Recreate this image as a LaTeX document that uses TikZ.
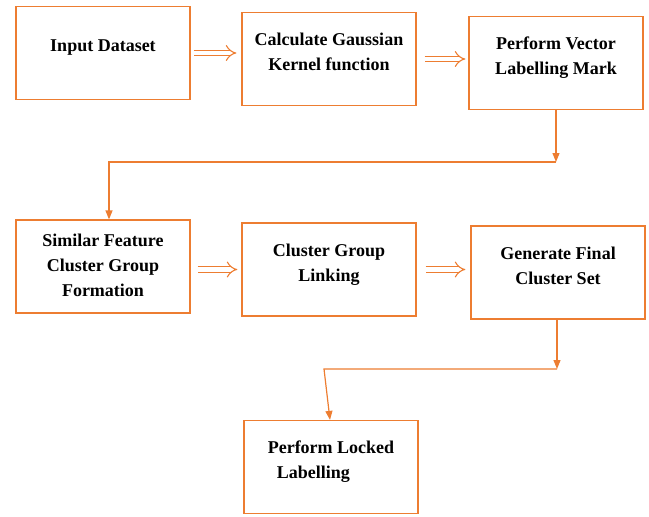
\documentclass[tikz,border=0pt]{standalone}
\usepackage{fontspec}
\setmainfont{Liberation Serif}
\usetikzlibrary{arrows.meta}
\definecolor{boxorange}{RGB}{237,125,49}

\begin{document}
\begin{tikzpicture}[x=1pt, y=-1pt, >={Triangle[width=7pt,length=9pt]},
    every node/.style={font=\fontsize{18}{25}\selectfont\bfseries, align=center},
    box/.style={draw=boxorange, line width=1.2pt, minimum width=174pt,
                minimum height=93pt, inner sep=0pt, text depth=14pt},
    link/.style={draw=boxorange, line width=1.2pt},
    hollow/.style={draw=boxorange, double=white, double distance=4.5pt,
                   line width=1.1pt, -{Implies[scale=1.5]}}]
  \useasboundingbox (0,0) rectangle (649,517);
  % first row
  \node[box] (data)   at (103,53)  {Input Dataset};
  \node[box] (gauss)  at (329,59)  {Calculate Gaussian\\Kernel function};
  \node[box] (vector) at (556,63)  {Perform Vector\\Labelling Mark};
  % second row
  \node[box, text depth=2pt] (similar) at (103,266.5) {Similar Feature\\Cluster Group\\Formation};
  \node[box] (linking) at (329,269.5) {Cluster Group\\Linking};
  \node[box] (final)   at (558,272.5) {Generate Final\\Cluster Set};
  % last one
  \node[box, align=left] (locked) at (331,467) {Perform Locked\\\hspace*{9pt}Labelling};
  \coordinate (j1) at (556,162);
  \coordinate (j2) at (109,162);
  \coordinate (j3) at (557,369);
  \coordinate (j4) at (324,369);
  \draw[hollow, shorten <=3pt, shorten >=5pt] (data.east) -- (gauss.west |- data.east);
  \draw[hollow, shorten <=8pt, shorten >=3pt] (gauss.east) -- (vector.west |- gauss.east);
  \draw[hollow, shorten <=7pt, shorten >=4pt] (similar.east |- linking.west) -- (linking.west);
  \draw[hollow, shorten <=9pt, shorten >=5pt] (linking.east) -- (final.west |- linking.east);
  \draw[link, ->] (vector.south) -- (j1);
  \draw[link, ->] (j1) -- (j2) -- (similar.north -| j2);
  \draw[link, ->] (final.south -| j3) -- (j3);
  \draw[link, ->] (j3) -- (j4) -- ([xshift=-1pt]locked.north);
\end{tikzpicture}
\end{document}
